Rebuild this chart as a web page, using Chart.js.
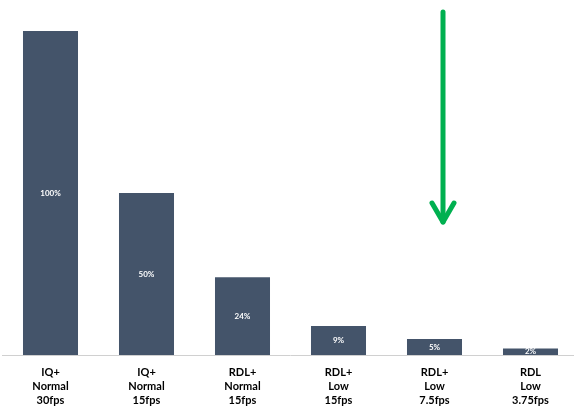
<!DOCTYPE html>
<html lang="en">
<head>
<meta charset="UTF-8">
<title>Frame rate comparison</title>
<script src="https://cdn.jsdelivr.net/npm/chart.js"></script>
<style>
  html, body { margin: 0; padding: 0; background: #fff; overflow: hidden; }
  .box { width: 580px; height: 407px; }
</style>
</head>
<body>
<div class="box">
  <canvas id="grafico"></canvas>
</div>
<script>
const categorias = [
  ['IQ+', 'Normal', '30fps'],
  ['IQ+', 'Normal', '15fps'],
  ['RDL+', 'Normal', '15fps'],
  ['RDL+', 'Low', '15fps'],
  ['RDL+', 'Low', '7.5fps'],
  ['RDL', 'Low', '3.75fps']
];
const valores = [100, 50, 24, 9, 5, 2];

// rótulo branco no meio de cada barra
const rotulosBarra = {
  id: 'rotulosBarra',
  afterDatasetsDraw(chart) {
    const ctx = chart.ctx;
    const meta = chart.getDatasetMeta(0);
    ctx.save();
    ctx.fillStyle = '#ffffff';
    ctx.font = 'bold 8px Lato';
    ctx.textAlign = 'center';
    ctx.textBaseline = 'middle';
    meta.data.forEach((bar, i) => {
      const y = (bar.y + bar.base) / 2;
      ctx.fillText(valores[i] + '%', bar.x, y);
    });
    ctx.restore();
  }
};

// seta verde
const seta = {
  id: 'seta',
  afterDraw(chart) {
    const ctx = chart.ctx;
    const area = chart.chartArea;
    const x = chart.scales.x.getPixelForValue(4) + 8.5;
    const topo = area.top - 19;
    const ponta = area.top + 193;
    ctx.save();
    ctx.strokeStyle = '#00B050';
    ctx.lineWidth = 5;
    ctx.lineCap = 'round';
    ctx.lineJoin = 'round';
    ctx.beginPath();
    ctx.moveTo(x, topo);
    ctx.lineTo(x, ponta - 2);
    ctx.stroke();
    ctx.beginPath();
    ctx.moveTo(x - 11, ponta - 21);
    ctx.lineTo(x, ponta - 2);
    ctx.lineTo(x + 11, ponta - 21);
    ctx.stroke();
    ctx.restore();
  }
};

new Chart(document.getElementById('grafico'), {
  type: 'bar',
  data: {
    labels: categorias,
    datasets: [{
      data: valores,
      backgroundColor: '#44546A',
      borderWidth: 0,
      categoryPercentage: 1,
      barPercentage: 0.573
    }]
  },
  options: {
    responsive: true,
    maintainAspectRatio: false,
    animation: false,
    layout: { padding: { top: 31, left: 2.5, right: 1.5, bottom: -10 } },
    plugins: {
      legend: { display: false },
      tooltip: { enabled: false }
    },
    scales: {
      y: {
        display: false,
        min: 0,
        max: 100
      },
      x: {
        grid: { display: false, drawTicks: false },
        border: { display: true, color: '#D0D0D0', width: 1 },
        ticks: {
          color: '#000000',
          padding: 10,
          maxRotation: 0,
          autoSkip: false,
          font: { family: 'Lato', size: 11, weight: 'bold', lineHeight: 1.27 }
        }
      }
    }
  },
  plugins: [rotulosBarra, seta]
});
</script>
</body>
</html>
